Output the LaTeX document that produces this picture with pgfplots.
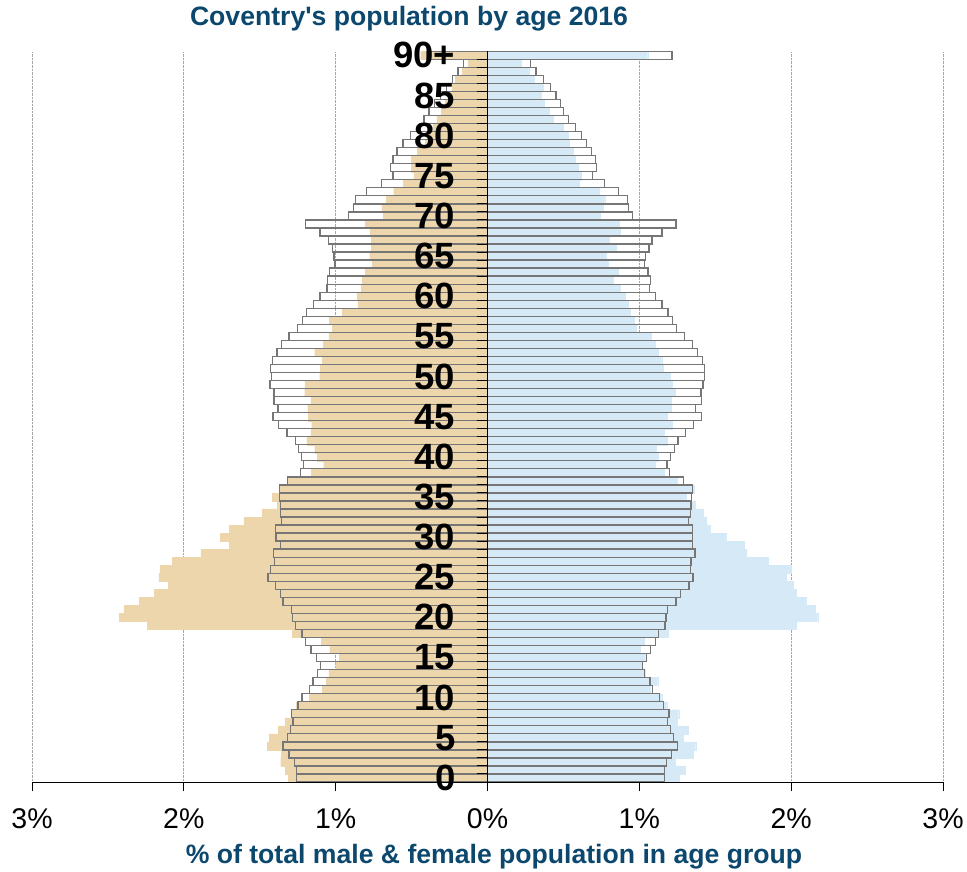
\documentclass[border=0pt]{standalone}
\usepackage{pgfplots}
\pgfplotsset{compat=1.18}
\usepackage{pgfplotstable}
\usepackage{fontspec}
\setmainfont{Liberation Sans}
\definecolor{tanfill}{RGB}{237,214,171}
\definecolor{lblue}{RGB}{213,233,246}
\definecolor{outl}{RGB}{118,118,118}
\definecolor{ttl}{RGB}{12,72,110}
\newcommand\titlefont{\fontsize{26.6bp}{30bp}\selectfont\bfseries}
\newcommand\tickfont{\fontsize{28.5bp}{32bp}\selectfont}
\newcommand\agefont{\fontsize{36.5bp}{40bp}\selectfont\bfseries}

\pgfplotstableread{
age cm em cf ef
0 1.311 1.259 1.263 1.167
1 1.333 1.259 1.305 1.167
2 1.362 1.270 1.239 1.180
3 1.357 1.307 1.357 1.211
4 1.452 1.346 1.371 1.252
5 1.439 1.318 1.289 1.226
6 1.379 1.298 1.320 1.206
7 1.333 1.281 1.248 1.186
8 1.285 1.289 1.259 1.195
9 1.259 1.248 1.180 1.158
10 1.175 1.221 1.147 1.134
11 1.088 1.171 1.070 1.086
12 1.061 1.149 1.121 1.070
13 1.044 1.121 1.039 1.035
14 1.000 1.101 1.015 1.022
15 0.978 1.127 1.042 1.048
16 1.039 1.162 1.007 1.072
17 1.096 1.197 1.033 1.107
18 1.287 1.221 1.193 1.127
19 2.241 1.265 2.031 1.169
20 2.425 1.285 2.175 1.175
21 2.395 1.292 2.156 1.186
22 2.294 1.346 2.101 1.241
23 2.195 1.362 2.031 1.270
24 2.101 1.397 2.011 1.327
25 2.164 1.445 1.967 1.353
26 2.158 1.430 1.998 1.336
27 2.077 1.404 1.846 1.340
28 1.888 1.408 1.702 1.366
29 1.702 1.364 1.689 1.349
30 1.761 1.393 1.570 1.349
31 1.702 1.397 1.467 1.351
32 1.605 1.357 1.439 1.325
33 1.485 1.362 1.423 1.338
34 1.384 1.364 1.366 1.340
35 1.419 1.368 1.309 1.344
36 1.370 1.371 1.362 1.351
37 1.310 1.318 1.252 1.292
38 1.162 1.232 1.164 1.200
39 1.079 1.211 1.103 1.182
40 1.121 1.226 1.123 1.206
41 1.138 1.246 1.112 1.230
42 1.189 1.263 1.182 1.254
43 1.164 1.320 1.164 1.305
44 1.158 1.375 1.215 1.357
45 1.182 1.412 1.182 1.410
46 1.184 1.379 1.208 1.371
47 1.164 1.406 1.208 1.408
48 1.204 1.406 1.237 1.406
49 1.202 1.432 1.215 1.419
50 1.105 1.421 1.202 1.428
51 1.099 1.428 1.158 1.430
52 1.090 1.414 1.147 1.417
53 1.138 1.386 1.125 1.384
54 1.083 1.355 1.105 1.349
55 1.044 1.307 1.077 1.298
56 1.022 1.252 0.982 1.246
57 1.040 1.219 0.967 1.217
58 0.956 1.193 0.941 1.189
59 0.853 1.147 0.928 1.149
60 0.860 1.103 0.906 1.107
61 0.831 1.057 0.875 1.068
62 0.825 1.053 0.827 1.072
63 0.803 1.042 0.862 1.057
64 0.759 1.004 0.794 1.033
65 0.776 1.011 0.783 1.039
66 0.765 1.022 0.846 1.064
67 0.765 1.048 0.803 1.083
68 0.772 1.103 0.871 1.149
69 0.803 1.200 0.868 1.241
70 0.684 0.917 0.743 0.956
71 0.695 0.882 0.763 0.930
72 0.667 0.871 0.772 0.923
73 0.618 0.798 0.737 0.862
74 0.553 0.700 0.605 0.770
75 0.485 0.623 0.616 0.693
76 0.502 0.640 0.599 0.719
77 0.502 0.623 0.577 0.711
78 0.463 0.596 0.564 0.686
79 0.410 0.557 0.537 0.651
80 0.390 0.509 0.533 0.618
81 0.360 0.450 0.500 0.579
82 0.333 0.419 0.434 0.533
83 0.305 0.386 0.404 0.502
84 0.280 0.350 0.371 0.482
85 0.260 0.310 0.353 0.452
86 0.230 0.270 0.368 0.417
87 0.211 0.232 0.305 0.368
88 0.167 0.195 0.272 0.320
89 0.130 0.160 0.221 0.283
90 0.440 0.400 1.055 1.215
}\pop

\begin{document}
\begin{tikzpicture}
\useasboundingbox (-32bp,-90bp) rectangle (935bp,782bp);
\begin{axis}[
  at={(0,0)}, anchor=south west,
  scale only axis, width=911bp, height=730.7bp,
  xmin=-3, xmax=3, ymin=-0.5, ymax=90.5,
  axis x line*=bottom, axis y line=none,
  xtick={-3,-2,-1,0,1,2,3}, xticklabel=\empty,
  tick align=outside, major tick length=9bp,
  xtick style={black, line width=0.8bp},
  x axis line style={black, line width=1bp},
  xmajorgrids, major grid style={densely dotted, gray!70, line width=0.8bp},
  ytick=\empty,
  clip=false,
]
\addplot[xbar, bar width=1, bar shift=0pt, fill=tanfill, draw=tanfill, line width=0.3bp] table[x expr=-\thisrow{cm}, y=age]{\pop};
\addplot[xbar, bar width=1, bar shift=0pt, fill=lblue, draw=lblue, line width=0.3bp] table[x=cf, y=age]{\pop};
\addplot[xbar, bar width=1, bar shift=0pt, fill=none, draw=outl, line width=1.3bp] table[x expr=-\thisrow{em}, y=age]{\pop};
\addplot[xbar, bar width=1, bar shift=0pt, fill=none, draw=outl, line width=1.3bp] table[x=ef, y=age]{\pop};
\draw[black, line width=1bp] (axis cs:-3,-0.5) -- (axis cs:3,-0.5);
\draw[black, line width=1.2bp] (axis cs:0,-0.5) -- (axis cs:0,90.5);
\pgfplotsinvokeforeach{0.5,1.5,...,89.5}{\draw[black, line width=1bp] (axis cs:0,#1) -- ++(-11bp,0pt);}
\pgfplotsinvokeforeach{0,5,...,85}{\node[anchor=east, inner sep=0pt, font=\agefont, xshift=-32bp] at (axis cs:0,#1) {#1};}
\node[anchor=east, inner sep=0pt, font=\agefont, xshift=-32bp] at (axis cs:0,90) {90+};
\node[anchor=base, inner sep=0pt, font=\tickfont, yshift=-46.5bp] at (axis cs:-3,-0.5) {3\%};
\node[anchor=base, inner sep=0pt, font=\tickfont, yshift=-46.5bp] at (axis cs:-2,-0.5) {2\%};
\node[anchor=base, inner sep=0pt, font=\tickfont, yshift=-46.5bp] at (axis cs:-1,-0.5) {1\%};
\node[anchor=base, inner sep=0pt, font=\tickfont, yshift=-46.5bp] at (axis cs:0,-0.5) {0\%};
\node[anchor=base, inner sep=0pt, font=\tickfont, yshift=-46.5bp] at (axis cs:1,-0.5) {1\%};
\node[anchor=base, inner sep=0pt, font=\tickfont, yshift=-46.5bp] at (axis cs:2,-0.5) {2\%};
\node[anchor=base, inner sep=0pt, font=\tickfont, yshift=-46.5bp] at (axis cs:3,-0.5) {3\%};
\end{axis}
\node[font=\titlefont, text=ttl, inner sep=0pt] at (377bp,763bp) {Coventry\textquotesingle s population by age 2016};
\node[font=\titlefont, text=ttl, inner sep=0pt] at (462bp,-75bp) {\% of total male \& female population in age group};
\end{tikzpicture}
\end{document}
